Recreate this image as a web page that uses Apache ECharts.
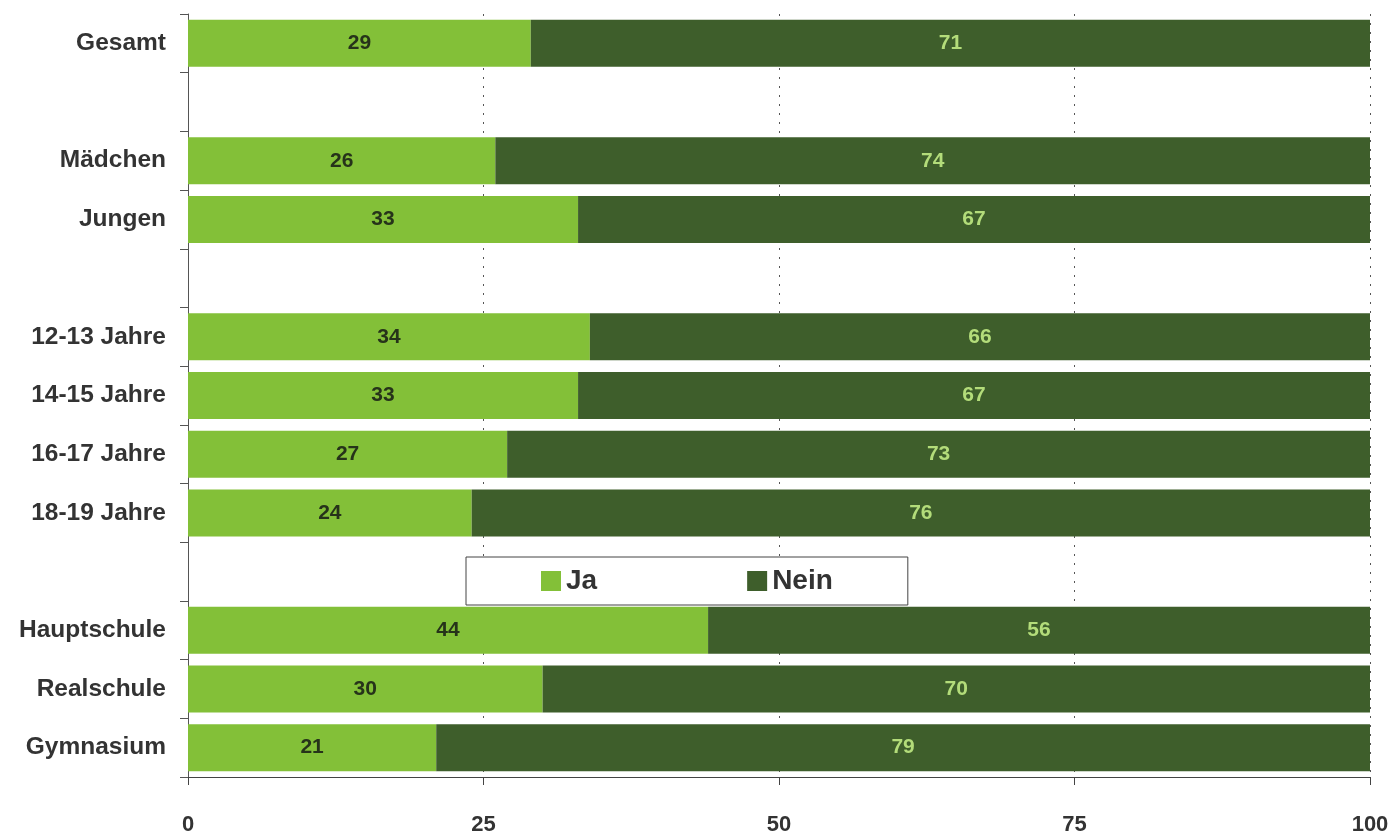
<!DOCTYPE html>
<html>
<head>
<meta charset="utf-8">
<script src="https://cdn.jsdelivr.net/npm/echarts@6/dist/echarts.min.js"></script>
<style>
html,body{margin:0;padding:0;background:#fff;}
#c{width:1393px;height:840px;}
</style>
</head>
<body>
<div id="c"></div>
<script>
const categories = ['Gesamt', '', 'Mädchen', 'Jungen', '', '12-13 Jahre', '14-15 Jahre', '16-17 Jahre', '18-19 Jahre', '', 'Hauptschule', 'Realschule', 'Gymnasium'];
const jaValues   = [29, null, 26, 33, null, 34, 33, 27, 24, null, 44, 30, 21];
const neinValues = [71, null, 74, 67, null, 66, 67, 73, 76, null, 56, 70, 79];
const xTicks = [0, 25, 50, 75, 100];

const font = 'Liberation Sans, Arial, sans-serif';
const chart = echarts.init(document.getElementById('c'));
chart.setOption({
  animation: false,
  textStyle: { fontFamily: font },
  grid: { left: 188, right: 23, top: 14, bottom: 63, containLabel: false, outerBoundsMode: 'none' },
  legend: {
    data: ['Ja', 'Nein'],
    left: 466, top: 557,
    orient: 'horizontal',
    icon: 'rect',
    itemWidth: 20, itemHeight: 20,
    itemGap: 150,
    padding: [10, 75, 10, 75],
    borderColor: '#444', borderWidth: 1,
    backgroundColor: '#fff',
    textStyle: { fontSize: 28, fontWeight: 'bold', color: '#333', fontFamily: font }
  },
  xAxis: {
    type: 'value', min: xTicks[0], max: xTicks[xTicks.length - 1], interval: 25,
    axisLine: { show: true, lineStyle: { color: '#444', width: 1 } },
    axisTick: { show: true, length: 8, lineStyle: { color: '#444' } },
    axisLabel: { margin: 37, fontSize: 22, fontWeight: 'bold', color: '#333', fontFamily: font },
    splitLine: { show: true, lineStyle: { color: '#555', type: [2, 7], width: 1 } }
  },
  yAxis: {
    type: 'category', data: categories, inverse: true,
    axisLine: { show: true, lineStyle: { color: '#555', width: 1 } },
    axisTick: { show: true, length: 8, lineStyle: { color: '#555' } },
    axisLabel: { margin: 22, fontSize: 24.5, fontWeight: 'bold', color: '#333', fontFamily: font, interval: 0 }
  },
  series: [
    {
      name: 'Ja', type: 'bar', stack: 'total', data: jaValues, barWidth: 47,
      itemStyle: { color: '#83c038' },
      label: { show: true, position: 'inside', fontSize: 21, fontWeight: 'bold', color: '#26331a', fontFamily: font }
    },
    {
      name: 'Nein', type: 'bar', stack: 'total', data: neinValues, barWidth: 47,
      itemStyle: { color: '#3e5e2b' },
      label: { show: true, position: 'inside', fontSize: 21, fontWeight: 'bold', color: '#b3dc7a', fontFamily: font }
    }
  ]
});
</script>
</body>
</html>
